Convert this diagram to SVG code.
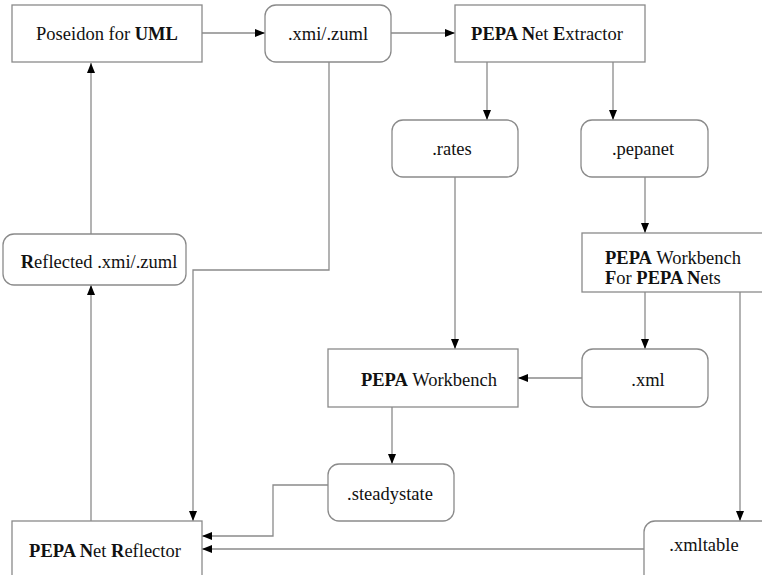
<svg xmlns="http://www.w3.org/2000/svg" width="762" height="575" viewBox="0 0 762 575">
<defs>
<marker id="ah" markerWidth="10" markerHeight="8" refX="10" refY="4" orient="auto" markerUnits="userSpaceOnUse">
<path d="M0,0 L10,4 L0,8 Z" fill="#000"/>
</marker>
<style>
.box{fill:#fff;stroke:#8a8a8a;stroke-width:1.3}
.c{fill:none;stroke:#8a8a8a;stroke-width:1.3;marker-end:url(#ah)}
.t{font-family:'Liberation Serif','Times New Roman','DejaVu Serif',serif;font-size:18.5px;fill:#111}
.m{text-anchor:middle}
.b{font-weight:bold}
</style>
</defs>
<rect width="762" height="575" fill="#fff"/>
<g id="connectors">
<path class="c" d="M202,33 H265"/>
<path class="c" d="M391,33 H455"/>
<path class="c" d="M487,62 V120"/>
<path class="c" d="M613,62 V120"/>
<path class="c" d="M455,177 V349"/>
<path class="c" d="M645,177 V233"/>
<path class="c" d="M645,292 V349"/>
<path class="c" d="M582,378 H518"/>
<path class="c" d="M392,407 V464"/>
<path class="c" d="M740,292 V521"/>
<path class="c" d="M644,549 H202"/>
<path class="c" d="M328,485 H273 V536 H202"/>
<path class="c" d="M329,62 V270 H193 V521"/>
<path class="c" d="M91,521 V285"/>
<path class="c" d="M91,234 V63"/>
</g>
<g id="poseidon">
<rect class="box" x="12" y="5" width="190" height="57"/>
<text class="t m" x="107" y="40">Poseidon for <tspan class="b">UML</tspan></text>
</g>
<g id="xmi">
<rect class="box" x="265" y="5" width="126" height="57" rx="11"/>
<text class="t m" x="328" y="40">.xmi/.zuml</text>
</g>
<g id="extractor">
<rect class="box" x="455" y="5" width="190" height="57"/>
<text class="t m" x="547" y="40"><tspan class="b">PEPA N</tspan>et <tspan class="b">E</tspan>xtractor</text>
</g>
<g id="rates">
<rect class="box" x="392" y="120" width="126" height="57" rx="11"/>
<text class="t m" x="452" y="155">.rates</text>
</g>
<g id="pepanet">
<rect class="box" x="581" y="120" width="127" height="57" rx="11"/>
<text class="t m" x="643" y="155">.pepanet</text>
</g>
<g id="wbnets">
<rect class="box" x="582" y="233" width="190" height="59"/>
<text class="t" x="605" y="264"><tspan class="b">PEPA</tspan> Workbench</text>
<text class="t" x="605" y="284"><tspan class="b">F</tspan>or <tspan class="b">PEPA N</tspan>ets</text>
</g>
<g id="xml">
<rect class="box" x="582" y="349" width="126" height="58" rx="11"/>
<text class="t m" x="648" y="386">.xml</text>
</g>
<g id="workbench">
<rect class="box" x="328" y="349" width="190" height="58"/>
<text class="t m" x="429" y="386"><tspan class="b">PEPA</tspan> Workbench</text>
</g>
<g id="steadystate">
<rect class="box" x="328" y="464" width="126" height="57" rx="11"/>
<text class="t m" x="390" y="500">.steadystate</text>
</g>
<g id="reflected">
<rect class="box" x="3" y="234" width="183" height="51" rx="11"/>
<text class="t m" x="99" y="268"><tspan class="b">R</tspan>eflected .xmi/.zuml</text>
</g>
<g id="reflector">
<rect class="box" x="12" y="521" width="190" height="70"/>
<text class="t m" x="105" y="557"><tspan class="b">PEPA N</tspan>et <tspan class="b">R</tspan>eflector</text>
</g>
<g id="xmltable">
<rect class="box" x="644" y="521" width="140" height="70" rx="11"/>
<text class="t m" x="704" y="551">.xmltable</text>
</g>
</svg>
